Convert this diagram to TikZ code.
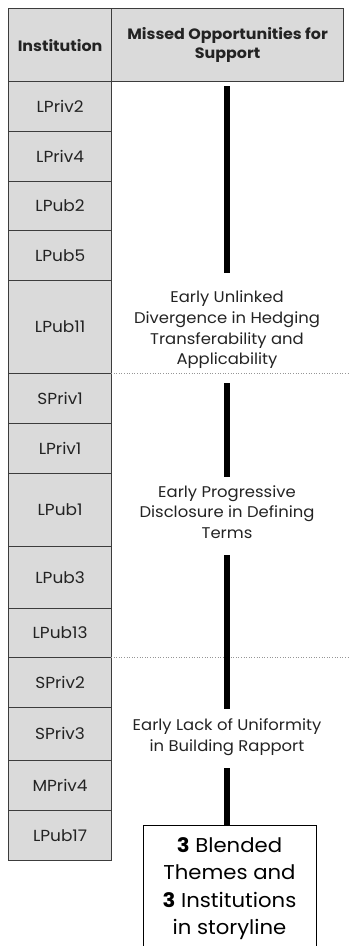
\documentclass[tikz,border=0pt]{standalone}
\usepackage{fontspec}
\setmainfont{Poppins}[FakeStretch=1.06]
\definecolor{cellfill}{RGB}{218,218,218}
\definecolor{cellline}{RGB}{60,60,60}
\definecolor{inktext}{RGB}{35,35,35}
\definecolor{rulegray}{RGB}{150,150,150}
\begin{document}
\begin{tikzpicture}[x=1pt,y=-1pt,
  gridbox/.style={draw=cellline, fill=cellfill, line width=1.2pt, inner sep=0pt,
    anchor=north west, text=inktext},
  cellbox/.style={gridbox, font=\fontsize{16}{18}\selectfont, text height=11.5pt, text depth=0pt},
  headbox/.style={gridbox, font=\bfseries\fontsize{15}{19}\selectfont, align=center},
  theme/.style={align=center, text=inktext, font=\fontsize{15.5}{20.7}\selectfont, inner sep=0pt},
  spine/.style={line width=6pt, black},
  divider/.style={rulegray, dotted, line width=0.6pt},
  summary/.style={draw=black, line width=1.3pt, fill=white, anchor=north west, inner sep=0pt},
  summarytext/.style={align=center, text=black, font=\fontsize{20}{27.5}\selectfont, inner sep=0pt}
]
\useasboundingbox (0,0) rectangle (349,946);
\clip (0,0) rectangle (349,946);

% header row
\node[headbox, minimum width=103pt, minimum height=73pt] (hInst) at (8,8) {Institution};
\node[headbox, minimum width=232pt, minimum height=73pt] (hMiss) at (111,8) {Missed Opportunities for\\Support};

% institution column: name / top edge / row height
\foreach \nm/\rowtop/\rowh in {LPriv2/81/50, LPriv4/131/50, LPub2/181/49, LPub5/230/50,
  LPub11/280/93, SPriv1/373/50, LPriv1/423/50, LPub1/473/73, LPub3/546/62,
  LPub13/608/49, SPriv2/657/50, SPriv3/707/53, MPriv4/760/50, LPub17/810/50}
  \node[cellbox, minimum width=103pt, minimum height=\rowh pt] (\nm) at (8,\rowtop) {\nm};

% group dividers
\coordinate (d1a) at (111,373); \coordinate (d1b) at (349,373);
\coordinate (d2a) at (111,657); \coordinate (d2b) at (349,657);
\draw[divider] (d1a) -- (d1b);
\draw[divider] (d2a) -- (d2b);

% themes
\node[theme] (t1) at (227,330) {Early Unlinked\\Divergence in Hedging\\Transferability and\\Applicability};
\node[theme] (t2) at (227,512) {Early Progressive\\Disclosure in Defining\\Terms};
\node[theme] (t3) at (227,737) {Early Lack of Uniformity\\in Building Rapport};

% summary box (runs past the lower edge)
\node[summary, minimum width=173pt, minimum height=135pt] (sum) at (143,825) {};
\node[summarytext] (sumtxt) at (229.5,888.5)
  {\textbf{3} Blended\\Themes and\\\textbf{3} Institutions\\in storyline};

% spine segments
\coordinate (s1a) at (227,86);  \coordinate (s1b) at (227,273);
\coordinate (s2a) at (227,383); \coordinate (s2b) at (227,477);
\coordinate (s3a) at (227,555); \coordinate (s3b) at (227,709);
\coordinate (s4a) at (227,768); \coordinate (s4b) at (227,825);
\draw[spine] (s1a) -- (s1b);
\draw[spine] (s2a) -- (s2b);
\draw[spine] (s3a) -- (s3b);
\draw[spine] (s4a) -- (s4b);
\end{tikzpicture}
\end{document}
